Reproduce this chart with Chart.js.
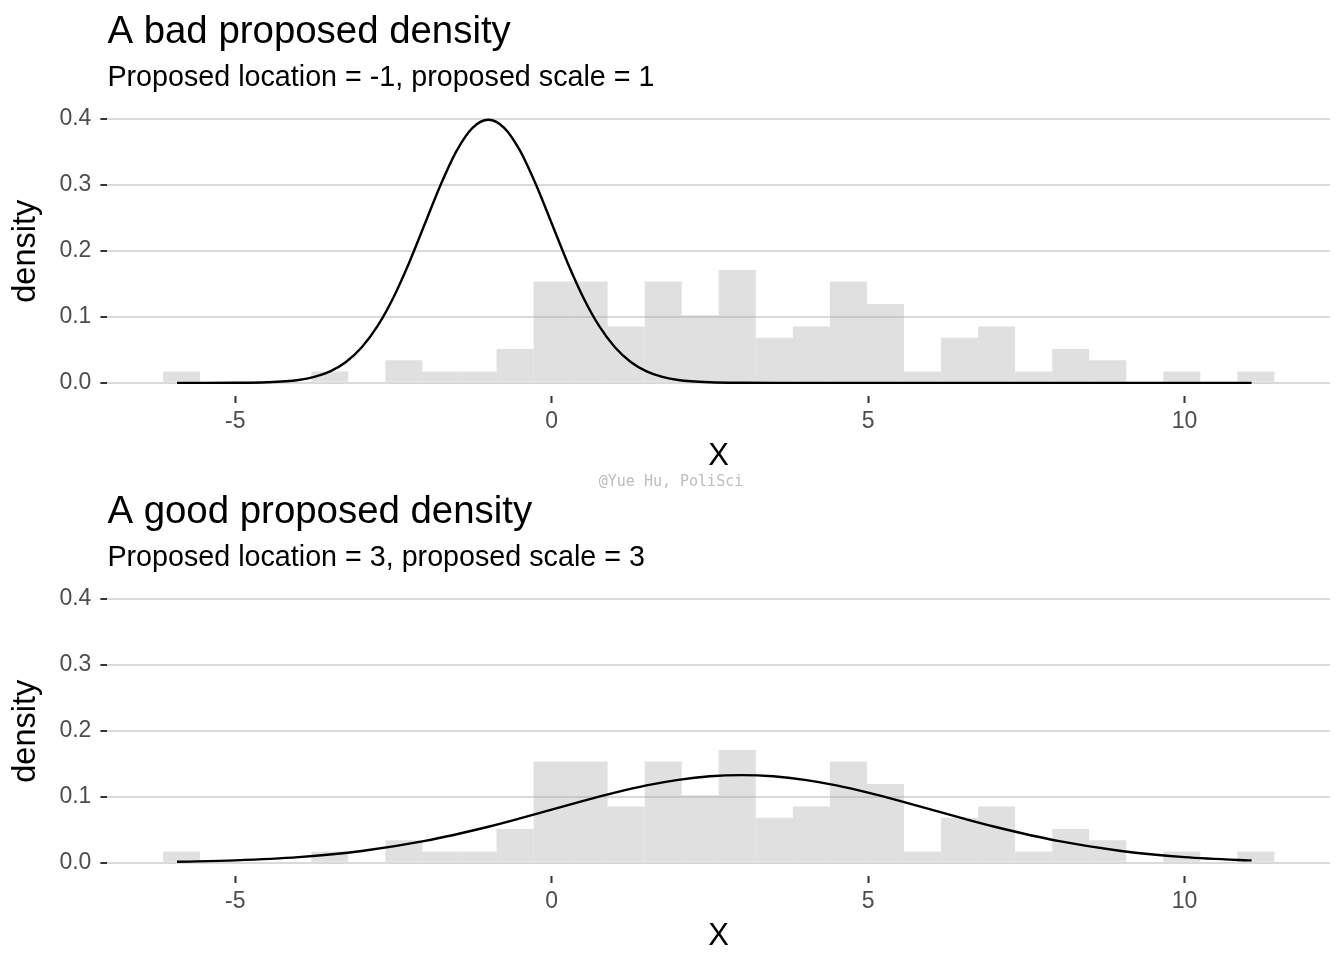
<!DOCTYPE html>
<html>
<head>
<meta charset="utf-8">
<script src="https://cdn.jsdelivr.net/npm/chart.js@4"></script>
<style>
  html, body { margin: 0; padding: 0; background: #ffffff; }
  #wrap { position: relative; width: 1344px; height: 960px; }
  .panel { position: absolute; left: 0; width: 1344px; height: 480px; }
  #mark { position: absolute; left: 0; top: 472px; width: 1342px; text-align: center;
          font-family: "DejaVu Sans Mono", "Liberation Mono", monospace; font-size: 15px;
          line-height: 18px; color: #bdbdbd; }
</style>
</head>
<body>
<div id="wrap">
  <div class="panel" style="top:0"><canvas id="c1" width="1344" height="480"></canvas></div>
  <div class="panel" style="top:480px"><canvas id="c2" width="1344" height="480"></canvas></div>
  <div id="mark">@Yue Hu, PoliSci</div>
</div>
<script>
// ---- data ----
const binCenters = [-5.847, -5.262, -4.676, -4.091, -3.505, -2.920, -2.335, -1.749, -1.164, -0.579,
                     0.007,  0.592,  1.177,  1.763,  2.348,  2.933,  3.519,  4.104,  4.690,  5.275,
                     5.860,  6.446,  7.031,  7.617,  8.202,  8.787,  9.373,  9.958, 10.543, 11.129];
const binDensity = [0.0171, 0, 0, 0, 0.0171, 0, 0.0342, 0.0171, 0.0171, 0.0513,
                    0.1538, 0.1538, 0.0854, 0.1538, 0.1025, 0.1709, 0.0683, 0.0854, 0.1538, 0.1196,
                    0.0171, 0.0683, 0.0854, 0.0171, 0.0513, 0.0342, 0, 0.0171, 0, 0.0171];

const badX = [-5.92, -5.5, -5, -4.5, -4, -3.75, -3.5, -3.25, -3, -2.75, -2.5, -2.25, -2, -1.75, -1.5, -1.25,
              -1, -0.75, -0.5, -0.25, 0, 0.25, 0.5, 0.75, 1, 1.25, 1.5, 1.75, 2, 2.5, 3, 4, 6, 8, 11.06];
const badY = [0.0000, 0.00002, 0.00013, 0.00087, 0.0044, 0.0091, 0.0175, 0.0317, 0.0540, 0.0863, 0.1295, 0.1826,
              0.2420, 0.3011, 0.3521, 0.3867, 0.3989, 0.3867, 0.3521, 0.3011, 0.2420, 0.1826, 0.1295, 0.0863,
              0.0540, 0.0317, 0.0175, 0.0091, 0.0044, 0.00087, 0.00013, 0, 0, 0, 0];

const goodX = [-5.92, -5, -4, -3, -2, -1, -0.5, 0, 0.5, 1, 1.5, 2, 2.5, 3, 3.5, 4, 4.5, 5, 5.5, 6, 6.5, 7,
               8, 9, 10, 11, 11.06];
const goodY = [0.0016, 0.0038, 0.0087, 0.0180, 0.0332, 0.0547, 0.0673, 0.0807, 0.0940, 0.1065, 0.1174, 0.1258,
               0.1312, 0.1330, 0.1312, 0.1258, 0.1174, 0.1065, 0.0940, 0.0807, 0.0673, 0.0547,
               0.0332, 0.0180, 0.0087, 0.0038, 0.0036];

const xTicks = [-5, 0, 5, 10];
const yTicks = [0.0, 0.1, 0.2, 0.3, 0.4];

const titles = ["A bad proposed density", "A good proposed density"];
const subtitles = ["Proposed location = -1, proposed scale = 1", "Proposed location = 3, proposed scale = 3"];

// ---- chart builder ----
const FONT = '"Liberation Sans", Arial, Helvetica, sans-serif';

function makeChart(id, title, subtitle, curveX, curveY) {
  const hist = binCenters.map((x, i) => ({ x: x, y: binDensity[i] }));
  const curve = curveX.map((x, i) => ({ x: x, y: curveY[i] }));
  return new Chart(document.getElementById(id), {
    type: 'bar',
    data: {
      datasets: [
        {
          type: 'line',
          data: curve,
          borderColor: '#000000',
          borderWidth: 2.4,
          pointRadius: 0,
          fill: false,
          cubicInterpolationMode: 'monotone',
          order: 0
        },
        {
          type: 'bar',
          data: hist,
          backgroundColor: 'rgba(170,170,170,0.36)',
          borderWidth: 0,
          inflateAmount: 0,
          barPercentage: 1.0,
          categoryPercentage: 1.0,
          order: 1
        }
      ]
    },
    options: {
      responsive: false,
      animation: false,
      devicePixelRatio: 1,
      layout: { padding: { left: 0, right: 14, top: 0, bottom: 0 } },
      plugins: {
        legend: { display: false },
        tooltip: { enabled: false },
        title: {
          display: true, text: title, align: 'start', fullSize: false,
          color: '#000000', font: { family: FONT, size: 38.4, weight: 'normal' },
          padding: { top: 9, bottom: 0 }
        },
        subtitle: {
          display: true, text: subtitle, align: 'start', fullSize: false,
          color: '#000000', font: { family: FONT, size: 28.7, weight: 'normal' },
          padding: { top: 6, bottom: 11 }
        }
      },
      scales: {
        x: {
          type: 'linear',
          offset: false,
          min: -7.02, max: 12.30,
          afterBuildTicks: (s) => { s.ticks = xTicks.map(v => ({ value: v })); },
          afterFit: (s) => { s.height = 84; },
          border: { display: false },
          grid: { offset: false, drawOnChartArea: false, drawTicks: true, tickLength: 7, tickWidth: 2,
                  tickColor: '#333333', color: '#333333' },
          ticks: { color: '#4D4D4D', font: { family: FONT, size: 23 }, padding: 5, maxRotation: 0 },
          title: { display: true, text: 'X', color: '#000000', font: { family: FONT, size: 31 },
                   padding: { top: 5, bottom: 5 } }
        },
        y: {
          type: 'linear',
          min: -0.01995, max: 0.41895,
          afterBuildTicks: (s) => { s.ticks = yTicks.map(v => ({ value: v })); },
          afterFit: (s) => { s.width = 107.4; },
          border: { display: false },
          grid: { color: '#DADADA', lineWidth: 2, drawTicks: true, tickLength: 7, tickWidth: 2, tickColor: '#333333' },
          ticks: { color: '#4D4D4D', font: { family: FONT, size: 23 }, padding: 9,
                   callback: (v) => Number(v).toFixed(1) },
          title: { display: true, text: 'density', color: '#000000', font: { family: FONT, size: 32.5 },
                   padding: { top: 7, bottom: 7 } }
        }
      }
    }
  });
}

makeChart('c1', titles[0], subtitles[0], badX, badY);
makeChart('c2', titles[1], subtitles[1], goodX, goodY);
</script>
</body>
</html>
